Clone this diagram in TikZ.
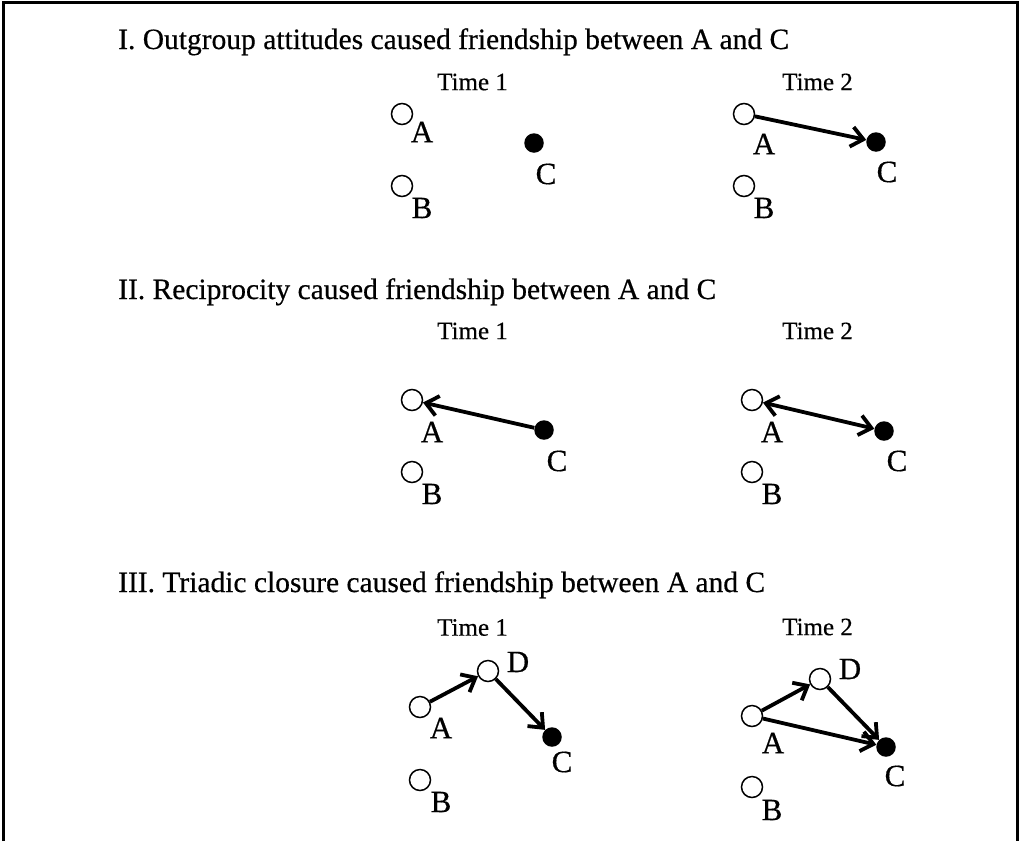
\documentclass[tikz,border=0pt]{standalone}
\usepackage{fontspec}
\setmainfont[FakeBold=0.5]{Liberation Serif}
\usetikzlibrary{arrows.meta}
\begin{document}
\begin{tikzpicture}[x=1pt,y=-1pt,
  wnode/.style={circle,draw,line width=1.5pt,fill=white,minimum size=21pt,inner sep=0pt},
  bnode/.style={circle,fill=black,minimum size=19.5pt,inner sep=0pt},
  lbl/.style={font=\fontsize{31}{33}\selectfont,inner sep=0pt},
  tlbl/.style={font=\fontsize{25}{30}\selectfont,inner sep=0pt},
  ttl/.style={font=\fontsize{29.5}{33}\selectfont,inner sep=0pt,anchor=base west},
  tip/.tip={Straight Barb[length=12pt,width=20pt]},
  link/.style={line width=3.8pt,-tip},
  blink/.style={line width=3.8pt,tip-tip},
  ]
\useasboundingbox (0,0) rectangle (1019,841);
\draw[line width=3pt] (3,841) -- (3,2) -- (1017,2) -- (1017,841);

% ---------- Section I ----------
\node[ttl] (t1) at (118,49) {I. Outgroup attitudes caused friendship between A and C};
\node[tlbl] (s1t1) at (472.5,82) {Time 1};
\node[tlbl] (s1t2) at (817.5,82) {Time 2};
% time 1
\node[wnode] (s1a1) at (402,114) {};
\node[lbl] (s1la1) at (422,132) {A};
\node[wnode] (s1b1) at (402,186) {};
\node[lbl] (s1lb1) at (422,208) {B};
\node[bnode] (s1c1) at (534,143) {};
\node[lbl] (s1lc1) at (546,174) {C};
% time 2
\node[wnode] (s1a2) at (744,114) {};
\node[lbl] (s1la2) at (764,144) {A};
\node[wnode] (s1b2) at (744,186) {};
\node[lbl] (s1lb2) at (764,208) {B};
\node[bnode] (s1c2) at (876,142) {};
\node[lbl] (s1lc2) at (887,172) {C};
\draw[link] (s1a2) -- (s1c2);

% ---------- Section II ----------
\node[ttl] (t2) at (118,299) {II. Reciprocity caused friendship between A and C};
\node[tlbl] (s2t1) at (472.5,331) {Time 1};
\node[tlbl] (s2t2) at (817.5,331) {Time 2};
% time 1
\node[wnode] (s2a1) at (412,400) {};
\node[lbl] (s2la1) at (432,432) {A};
\node[wnode] (s2b1) at (412,472) {};
\node[lbl] (s2lb1) at (432,494) {B};
\node[bnode] (s2c1) at (544,430) {};
\node[lbl] (s2lc1) at (557,461) {C};
\draw[link] (s2c1) -- (s2a1);
% time 2
\node[wnode] (s2a2) at (752,400) {};
\node[lbl] (s2la2) at (772,432) {A};
\node[wnode] (s2b2) at (752,472) {};
\node[lbl] (s2lb2) at (772,494) {B};
\node[bnode] (s2c2) at (884,431) {};
\node[lbl] (s2lc2) at (897,461) {C};
\draw[blink] (s2a2) -- (s2c2);

% ---------- Section III ----------
\node[ttl] (t3) at (118,592) {III. Triadic closure caused friendship between A and C};
\node[tlbl] (s3t1) at (472.5,627.5) {Time 1};
\node[tlbl] (s3t2) at (817.5,627) {Time 2};
% time 1
\node[wnode] (s3a1) at (420,707) {};
\node[lbl] (s3la1) at (441,728) {A};
\node[wnode] (s3d1) at (488,671) {};
\node[lbl] (s3ld1) at (518,662) {D};
\node[wnode] (s3b1) at (420,780) {};
\node[lbl] (s3lb1) at (441,802) {B};
\node[bnode] (s3c1) at (552,737) {};
\node[lbl] (s3lc1) at (562,762) {C};
\draw[link] (s3a1) -- (s3d1);
\draw[link] (s3d1) -- (s3c1);
% time 2
\node[wnode] (s3a2) at (752,716) {};
\node[lbl] (s3la2) at (773,743) {A};
\node[wnode] (s3d2) at (820,679) {};
\node[lbl] (s3ld2) at (850,669) {D};
\node[wnode] (s3b2) at (752,787) {};
\node[lbl] (s3lb2) at (772,810) {B};
\node[bnode] (s3c2) at (886,747) {};
\node[lbl] (s3lc2) at (895,776) {C};
\draw[link] (s3a2) -- (s3d2);
\draw[link] (s3d2) -- (s3c2);
\draw[link] (s3a2) -- (s3c2);
\end{tikzpicture}
\end{document}
